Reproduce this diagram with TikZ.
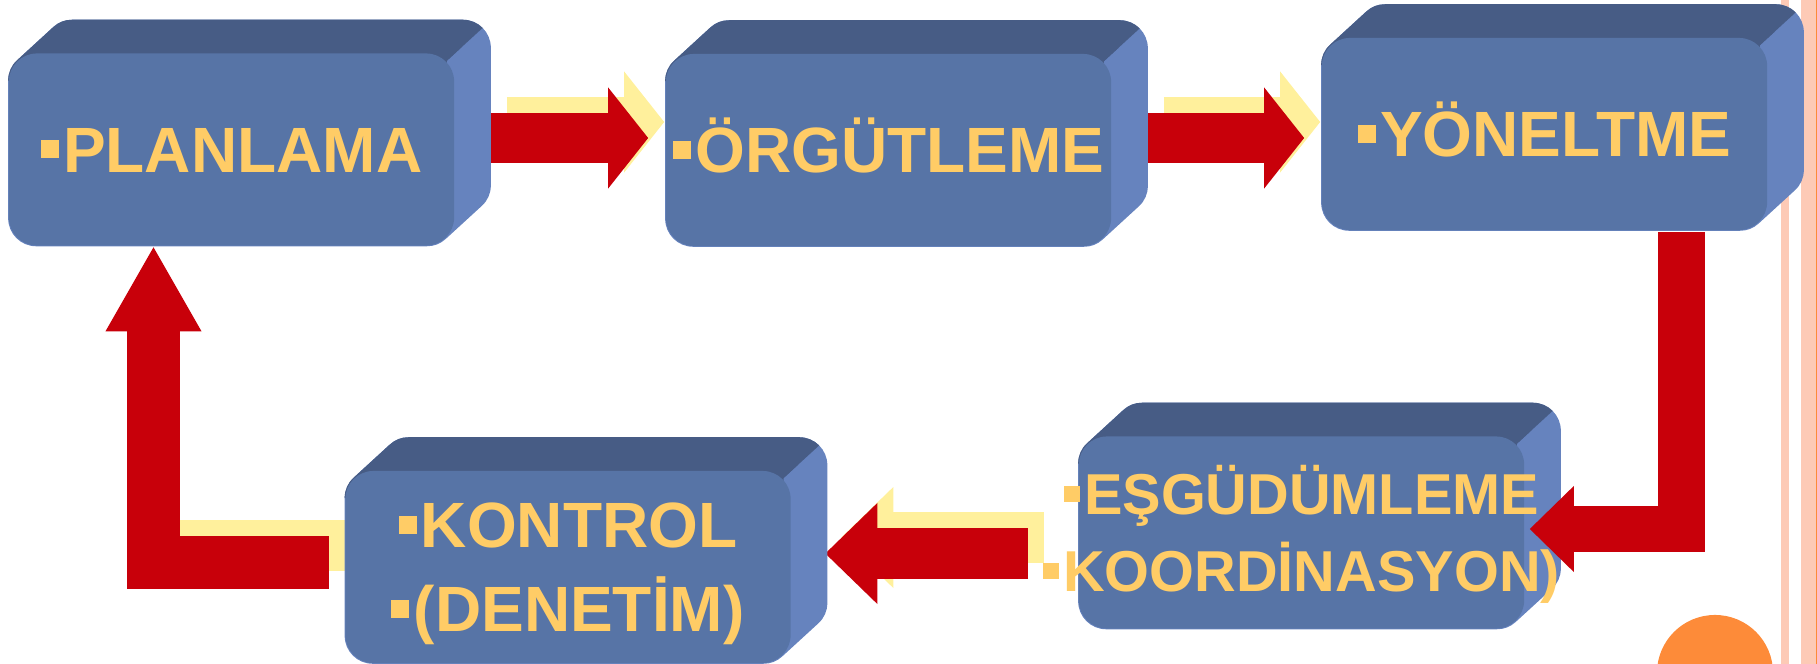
\documentclass[tikz,border=0pt]{standalone}
\usepackage{fontspec}
\setmainfont{Liberation Sans}
\usepackage{xcolor}
\usepackage{tikz}
\usetikzlibrary{arrows.meta,backgrounds}
\definecolor{onyuz}{HTML}{5774A6}
\definecolor{ustyuz}{HTML}{475C85}
\definecolor{yanyuz}{HTML}{6683BE}
\definecolor{kirmizi}{HTML}{C8000A}
\definecolor{sarigolge}{HTML}{FFF09C}
\definecolor{yazisari}{HTML}{FFCC66}
\definecolor{serit}{HTML}{FDCAB6}
\definecolor{turuncu}{HTML}{FD8B39}
\newcommand{\kare}{\raisebox{0.22em}{\rule{0.28em}{0.28em}}\hspace{0.07em}}

\begin{document}
\begin{tikzpicture}[
      x=0.01cm, y=-0.01cm,
      kutu/.style={rounded corners=0.28cm, fill=onyuz, text=yazisari, align=center,
                   minimum width=4.45cm, minimum height=1.92cm, inner sep=0pt,
                   font=\bfseries\fontsize{18.2}{23.9}\selectfont, text height=13pt, text depth=0pt},
      ok/.style={draw=kirmizi, line width=0.5cm, -{Triangle[length=0.4cm, width=1.01cm, line width=0pt]}},
      golge/.style={ok, draw=sarigolge},
      yan/.style={fill=yanyuz, draw=yanyuz, line width=0.56cm, line join=round},
      ust/.style={yan, fill=ustyuz, draw=ustyuz}]
    \useasboundingbox (0,0) rectangle (1817,664);
    \node[kutu] (plan) at (231.5,149.5) {\kare PLANLAMA};
    \node[kutu] (orgut) at (888.5,150) {\kare ÖRGÜTLEME};
    \node[kutu] (yonel) at (1544.5,134) {\kare YÖNELTME};
    \node[kutu, text height=36.9pt] (kontrol) at (568,567) {\kare KONTROL\\ \kare (DENETİM)};
    \node[kutu, font=\bfseries\fontsize{16.4}{21.9}\selectfont, text height=33.65pt] (esgud) at (1301.5,532.5)
         {\makebox[0pt]{\kare EŞGÜDÜMLEME}\\ \makebox[0pt]{\kare KOORDİNASYON)}};
    \begin{scope}[on background layer]
      \fill[serit] (1781,0) rectangle (1789,664);
      \fill[serit] (1801,0) rectangle (1816,664);
      \fill[turuncu] (1816,0) rectangle (1817,664);
      \begin{scope}
        \clip (0,0) rectangle (1817,664);
        \fill[turuncu] (1715,673) circle (0.58cm);
      \end{scope}
      \draw[golge] ([shift={(52,-27.5)}]plan.east) -- ([shift={(-1,-28)}]orgut.west);
      \draw[golge] ([shift={(52,-28)}]orgut.east) -- ([shift={(-1,-12)}]yonel.west);
      \draw[golge, -] ([shift={(0,-21.5)}]kontrol.west) -- ++(-190,0);
      \draw[golge, -{Triangle[length=0.52cm, width=1.01cm, line width=0pt]}] ([shift={(-34,5)}]esgud.west) -- ([shift={(50,-29.5)}]kontrol.east);
      \draw[ok] ([shift={(36,-11.5)}]plan.east) -- ([shift={(-17,-12)}]orgut.west);
      \draw[ok] ([shift={(36,-12)}]orgut.east) -- ([shift={(-17,4)}]yonel.west);
      \draw[ok, line width=0.52cm, -{Triangle[length=0.84cm, width=0.96cm, line width=0pt]}] ([shift={(-16,-4.5)}]kontrol.west) -| ([shift={(-78,1)}]plan.south);
      \draw[ok, line width=0.51cm, -{Triangle[length=0.52cm, width=1.01cm, line width=0pt]}] ([shift={(-50,21)}]esgud.west) -- ([shift={(34,-13.5)}]kontrol.east);
      \foreach \k in {plan,orgut,yonel,kontrol,esgud}{
        \filldraw[yan] ([shift={(28,-28)}]\k.south west) -- ([shift={(28,28)}]\k.north west) -- ([shift={(64,-5)}]\k.north west)
             -- ([shift={(8,-5)}]\k.north east) -- ([shift={(8,-61)}]\k.south east) -- ([shift={(-28,-28)}]\k.south east) -- cycle;
        \begin{scope}
          \clip ([shift={(-60,28)}]\k.north west) -- ([shift={(-60,-60)}]\k.north west) -- ([shift={(64,-58)}]\k.north east)
               -- ([shift={(-8,8)}]\k.north east) -- ([shift={(-8,28)}]\k.north east) -- cycle;
          \filldraw[ust] ([shift={(28,-28)}]\k.south west) -- ([shift={(28,28)}]\k.north west) -- ([shift={(64,-5)}]\k.north west)
               -- ([shift={(8,-5)}]\k.north east) -- ([shift={(8,-61)}]\k.south east) -- ([shift={(-28,-28)}]\k.south east) -- cycle;
        \end{scope}
      }
    \end{scope}
    \draw[ok, line width=0.46cm, -{Triangle[length=0.44cm, width=0.86cm, line width=0pt]}] ([shift={(137,1)}]yonel.south) |- ([shift={(5,-3.5)}]esgud.east);
  \end{tikzpicture}
\end{document}
